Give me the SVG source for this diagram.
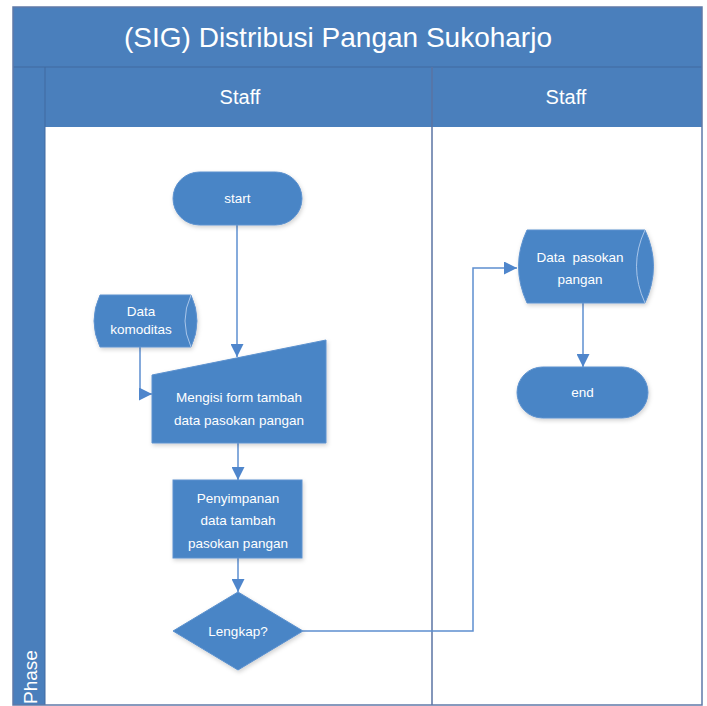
<svg xmlns="http://www.w3.org/2000/svg" width="707" height="706" viewBox="0 0 707 706">
<defs>
<style>
.band{fill:#4a7fbc;}
.frame{fill:none;stroke:#5f79a8;stroke-width:1.5;}
.div{stroke:#416aa0;stroke-width:1;}
.node{fill:#4a85c6;stroke:#5d92cf;stroke-width:1;filter:url(#sh);}
.inner{fill:none;stroke:#a9c6ea;stroke-width:1;}
.ttl{font-family:"Liberation Sans","DejaVu Sans",sans-serif;fill:#ffffff;text-anchor:middle;}
.lbl{font-family:"Liberation Sans","DejaVu Sans",sans-serif;font-size:13.5px;fill:#ffffff;text-anchor:middle;}
.con{fill:none;stroke:#5e8fd0;stroke-width:1.5;}
</style>
<marker id="ah" viewBox="0 0 10 10" refX="10" refY="5" markerWidth="13" markerHeight="13" markerUnits="userSpaceOnUse" orient="auto">
<path d="M0,0 L10,5 L0,10 Z" fill="#4f86cc"/>
</marker>
<filter id="sh" x="-20%" y="-20%" width="140%" height="150%">
<feDropShadow dx="1" dy="2" stdDeviation="2" flood-color="#000000" flood-opacity="0.18"/>
</filter>
</defs>
<rect x="0" y="0" width="707" height="706" fill="#ffffff"/>
<g id="pool">
<rect x="13" y="7" width="689" height="698" fill="#ffffff"/>
<rect class="band" x="13" y="7" width="689" height="60"/>
<rect class="band" x="13" y="67" width="32" height="638"/>
<rect class="band" x="45" y="67" width="657" height="60"/>
<line class="div" x1="13" y1="67" x2="702" y2="67"/>
<line class="div" x1="45" y1="67" x2="45" y2="705"/>
<line x1="432" y1="67" x2="432" y2="705" stroke="#5a73a3" stroke-width="1.5"/>
<rect class="frame" x="13" y="7" width="689" height="698"/>
<text class="ttl" x="338" y="47" font-size="28">(SIG) Distribusi Pangan Sukoharjo</text>
<text class="ttl" x="240" y="104" font-size="20">Staff</text>
<text class="ttl" x="566" y="104" font-size="20">Staff</text>
<text class="ttl" font-size="19" transform="translate(37,704) rotate(-90)" style="text-anchor:start">Phase</text>
</g>
<g id="connectors">
<line class="con" x1="237" y1="225" x2="237" y2="357" marker-end="url(#ah)"/>
<polyline class="con" points="140,347 140,394 152,394" marker-end="url(#ah)"/>
<line class="con" x1="238" y1="443" x2="238" y2="480" marker-end="url(#ah)"/>
<line class="con" x1="238" y1="558" x2="238" y2="592" marker-end="url(#ah)"/>
<polyline class="con" points="303,631 473,631 473,268 517,268" marker-end="url(#ah)"/>
<line class="con" x1="583" y1="303" x2="583" y2="367" marker-end="url(#ah)"/>
</g>
<g id="start">
<rect class="node" x="173" y="172" width="129" height="53" rx="26.5"/>
<text class="lbl" x="237.5" y="203">start</text>
</g>
<g id="data-komoditas">
<path class="node" d="M100,295 L191,295 Q203,321 191,347 L100,347 Q88,321 100,295 Z"/>
<path class="inner" d="M191,295 Q179,321 191,347"/>
<text class="lbl" x="141" y="316">Data</text>
<text class="lbl" x="141" y="334">komoditas</text>
</g>
<g id="mengisi-form">
<path class="node" d="M152,375 L326,340 L326,443 L152,443 Z"/>
<text class="lbl" x="239" y="402" font-size="14.5">Mengisi form tambah</text>
<text class="lbl" x="239" y="425" font-size="14.5">data pasokan pangan</text>
</g>
<g id="penyimpanan">
<rect class="node" x="173" y="480" width="129" height="78"/>
<text class="lbl" x="238" y="503">Penyimpanan</text>
<text class="lbl" x="238" y="525">data tambah</text>
<text class="lbl" x="238" y="548">pasokan pangan</text>
</g>
<g id="lengkap">
<path class="node" d="M238,592 L303,631 L238,670 L173,631 Z"/>
<text class="lbl" x="238" y="636">Lengkap?</text>
</g>
<g id="data-pasokan">
<path class="node" d="M527,230 L645,230 Q662,266 645,303 L527,303 Q510,266 527,230 Z"/>
<path class="inner" d="M645,230 Q628,266 645,303"/>
<text class="lbl" x="580" y="262" xml:space="preserve">Data  pasokan</text>
<text class="lbl" x="580" y="284">pangan</text>
</g>
<g id="end">
<rect class="node" x="517" y="367" width="131" height="51" rx="25.5"/>
<text class="lbl" x="582.5" y="397">end</text>
</g>
</svg>
